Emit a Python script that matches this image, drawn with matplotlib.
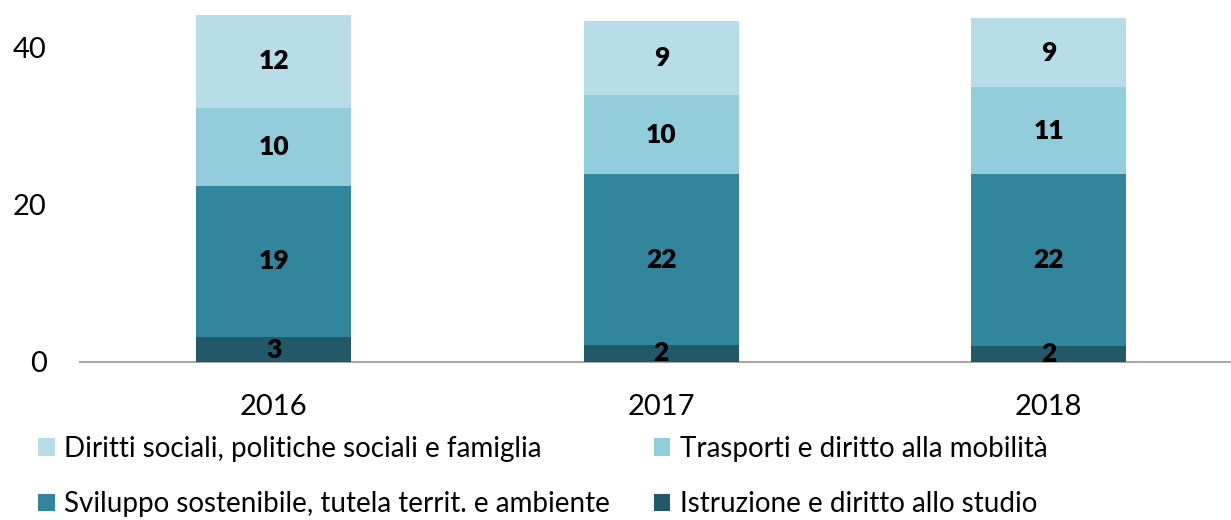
import matplotlib
matplotlib.use("Agg")
import matplotlib.pyplot as plt
from matplotlib.patches import Patch

plt.rcParams['font.family'] = ['Lato', 'DejaVu Sans']

years = ["2016", "2017", "2018"]
series_names = [
    "Istruzione e diritto allo studio",
    "Sviluppo sostenibile, tutela territ. e ambiente",
    "Trasporti e diritto alla mobilità",
    "Diritti sociali, politiche sociali e famiglia",
]
istruzione = [3.1, 2.1, 2.0]
sviluppo = [19.3, 21.8, 21.9]
trasporti = [9.9, 10.0, 11.0]
diritti = [11.8, 9.4, 8.8]
series_values = [istruzione, sviluppo, trasporti, diritti]
colors = ["#215968", "#31859C", "#92CDDC", "#B7DEE8"]

W, H = 1231, 520
fig = plt.figure(figsize=(W / 100, H / 100), dpi=100)
ax = fig.add_axes([80 / W, (H - 361.7) / H, (W - 80) / W, 353.7 / H])

x = list(range(len(years)))
bottoms = [0.0] * len(years)
for vals, col in zip(series_values, colors):
    ax.bar(x, vals, width=0.4, bottom=bottoms, color=col, edgecolor='none', zorder=2)
    for xi, v, bt in zip(x, vals, bottoms):
        ax.text(xi, bt + v / 2, f"{round(v):d}", ha='center', va='center',
                fontsize=19, fontweight='heavy', color='black', zorder=3)
    bottoms = [bt + v for bt, v in zip(bottoms, vals)]

ax.set_xlim(-0.5, 2.47)
ax.set_ylim(0, 45)
ax.set_yticks([0, 20, 40])
ax.set_xticks(x)
ax.set_xticklabels(years)
ax.tick_params(axis='both', length=0, labelsize=21)
ax.tick_params(axis='y', pad=24)
ax.tick_params(axis='x', pad=23)
for s in ['top', 'right', 'left']:
    ax.spines[s].set_visible(False)
ax.spines['bottom'].set_color('#A6A6A6')
ax.spines['bottom'].set_linewidth(1.5)
ax.spines['bottom'].set_zorder(1)

# column-major fill: col1 = Diritti, Sviluppo ; col2 = Trasporti, Istruzione
handles = [Patch(facecolor=colors[3], label=series_names[3]),
           Patch(facecolor=colors[1], label=series_names[1]),
           Patch(facecolor=colors[2], label=series_names[2]),
           Patch(facecolor=colors[0], label=series_names[0])]
fig.legend(handles=handles, ncol=2, loc='upper left',
           bbox_to_anchor=(38 / W, 1 - 436 / H), frameon=False,
           fontsize=20, handlelength=0.6, handleheight=0.6, handletextpad=0.35,
           columnspacing=1.56, labelspacing=1.05, borderaxespad=0, borderpad=0)

fig.savefig("out.png", dpi=100)
